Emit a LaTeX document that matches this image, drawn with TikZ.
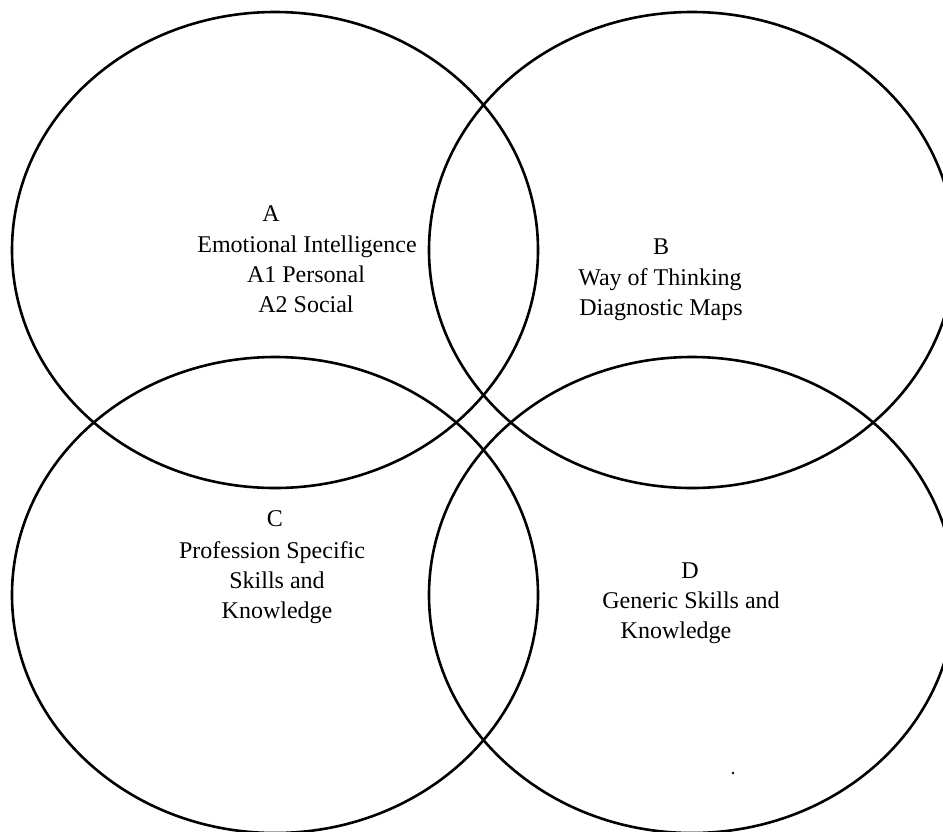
\documentclass[tikz,border=0pt]{standalone}
\usepackage{fontspec}
\setmainfont{Liberation Serif}
\begin{document}
\begin{tikzpicture}[x=1pt,y=-1pt,
  ring/.style={draw=black,line width=2.6pt},
  lbl/.style={inner sep=0pt,anchor=base,font=\fontsize{24}{30}\selectfont}]
\useasboundingbox (0,0) rectangle (943,831);
\begin{scope}
\clip (0,0) rectangle (943,831);
\draw[ring] (275,250) ellipse [x radius=263, y radius=238];
\draw[ring] (692,250) ellipse [x radius=263, y radius=238];
\draw[ring] (275,595) ellipse [x radius=263, y radius=238];
\draw[ring] (692,595) ellipse [x radius=263, y radius=238];
\end{scope}
% A
\node[lbl] (a0) at (271,221) {A};
\node[lbl] (a1) at (307,252) {Emotional Intelligence};
\node[lbl] (a2) at (306,282) {A1 Personal};
\node[lbl] (a3) at (306,312) {A2 Social};
% B
\node[lbl] (b0) at (661,254) {B};
\node[lbl] (b1) at (660,285) {Way of Thinking};
\node[lbl] (b2) at (661,315) {Diagnostic Maps};
% C
\node[lbl] (c0) at (275,526) {C};
\node[lbl] (c1) at (272,558) {Profession Specific};
\node[lbl] (c2) at (277,588) {Skills and};
\node[lbl] (c3) at (277,618) {Knowledge};
% D
\node[lbl] (d0) at (690,578) {D};
\node[lbl] (d1) at (691,608) {Generic Skills and};
\node[lbl] (d2) at (676,638) {Knowledge};
\fill (733,773) circle (1.3);
\end{tikzpicture}
\end{document}
